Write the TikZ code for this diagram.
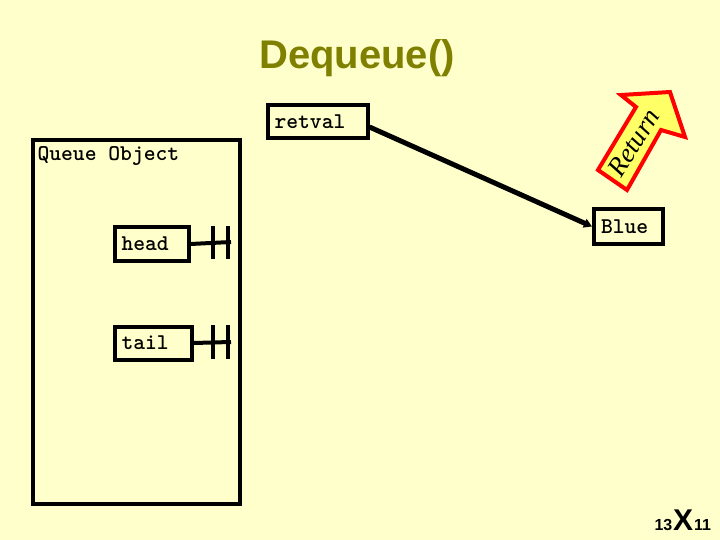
\documentclass[tikz,border=0pt]{standalone}
\usepackage{fontspec}
\usepackage{tikz}
\usetikzlibrary{arrows.meta,calc,positioning}
\setmainfont{Liberation Serif}
\newfontfamily\headfont{Liberation Sans}
\definecolor{slidebg}{HTML}{FFFFCC}
\definecolor{titleolive}{HTML}{808000}
\definecolor{retfill}{HTML}{FFFF66}
\tikzset{
  cell/.style={draw, line width=4pt, font=\ttfamily\bfseries\fontsize{22.5}{24}\selectfont,
    inner xsep=7pt, inner ysep=0pt, align=left, minimum height=33pt},
  stub/.style={line width=4pt}
}

\begin{document}
\begin{tikzpicture}[x=1pt,y=-1pt]
  \fill[slidebg] (0,0) rectangle (720,540);
  \useasboundingbox (0,0) rectangle (720,540);
  \node[font=\headfont\bfseries\fontsize{40}{44}\selectfont, text=titleolive] (title) at (357,58) {Dequeue()};
  % queue object and its fields
  \draw[line width=4pt] (33,140) rectangle (240,504);
  \node[font=\ttfamily\bfseries\fontsize{22.5}{24}\selectfont, anchor=west] (qlabel) at (34,156) {Queue Object};
  \node[cell, text width=60pt] (head) at (151.5,244) {head};
  \node[cell, text width=63pt] (tail) at (153,343) {tail};
  \coordinate (headend) at (231,242);
  \coordinate (tailend) at (231,342);
  \draw[stub] (head.east) -- (headend);
  \draw[stub] (tail.east) -- (tailend);
  \foreach \bx in {213,228} {
    \draw[stub] (\bx,226) -- (\bx,259);
    \draw[stub] (\bx,325) -- (\bx,359);
  }
  % returned value
  \node[cell, text width=86pt] (retval) at (317.5,122) {retval};
  \node[cell, text width=55pt, minimum height=35pt] (blue) at (628.5,226.5) {Blue};
  \draw[line width=5pt, -{Triangle[length=8pt,width=9pt]}] ([yshift=-5pt]retval.east) -- (blue.west);
  % return arrow
  \draw[red, line width=4pt, fill=retfill, line join=miter]
    (598,170) -- (627,190) -- (661,130) -- (685,137) -- (670,92) -- (621,95) -- (636,107) -- cycle;
  \node[rotate=58, font=\itshape\fontsize{27}{29}\selectfont] (ret) at (634,143) {Return};
  % slide number
  \node[font=\headfont\bfseries\fontsize{16}{18}\selectfont, anchor=base east, inner xsep=0.5pt] (pa) at (673,530) {13};
  \node[font=\headfont\bfseries\fontsize{30}{32}\selectfont, anchor=base west, inner xsep=0pt] (px) at (pa.base east) {X};
  \node[font=\headfont\bfseries\fontsize{16}{18}\selectfont, anchor=base west, inner xsep=0.5pt] (pb) at (px.base east) {11};
\end{tikzpicture}
\end{document}
